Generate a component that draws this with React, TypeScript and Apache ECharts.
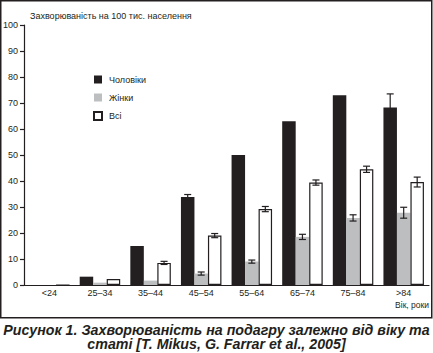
import React, { useEffect, useRef } from "react";
import * as echarts from "echarts";

const categories = ["<24", "25–34", "35–44", "45–54", "55–64", "65–74", "75–84", ">84"];
const seriesNames = ["Чоловіки", "Жінки", "Всі"];
const menValues = [0, 3.2, 15.0, 33.8, 50.0, 63.0, 73.0, 68.3];
const womenValues = [0, 0.9, 1.7, 4.4, 9.0, 18.5, 25.8, 27.8];
const allValues = [0, 2.3, 8.5, 19.0, 29.2, 39.4, 44.5, 39.6];
const menErrors = [null, null, null, 1.0, null, null, null, 5.2];
const womenErrors = [null, null, null, 0.6, 0.6, 1.0, 1.2, 2.1];
const allErrors = [null, null, 0.6, 0.8, 1.0, 1.0, 1.2, 1.9];
const yTitle = "Захворюваність на 100 тис. населення";
const xTitle = "Вік, роки";
const captionLines = [
  "Рисунок 1. Захворюваність на подагру залежно від віку та",
  "статі [T. Mikus, G. Farrar et al., 2005]",
];

const INK = "#231f20";
const FONT = "'Liberation Sans', Arial, sans-serif";
const BAR_W = 13.5;

function errorSeries(values: number[], errors: (number | null)[], offsetIndex: number) {
  const data = values.map((v, i) => [i, v, errors[i] == null ? 0 : (errors[i] as number), errors[i] == null ? 0 : 1]);
  return {
    type: "custom",
    z: 10,
    silent: true,
    data,
    encode: { x: 0, y: 1 },
    renderItem: (params: any, api: any) => {
      if (!api.value(3)) return null;
      const idx = api.value(0);
      const v = api.value(1);
      const e = api.value(2);
      const top = api.coord([idx, v + e]);
      const bot = api.coord([idx, v - e]);
      const x = top[0] + (offsetIndex - 1) * BAR_W;
      const cap = 3.5;
      const style = { stroke: INK, lineWidth: 1.2, fill: "none" };
      return {
        type: "group",
        children: [
          { type: "line", shape: { x1: x, y1: top[1], x2: x, y2: bot[1] }, style },
          { type: "line", shape: { x1: x - cap, y1: top[1], x2: x + cap, y2: top[1] }, style },
          { type: "line", shape: { x1: x - cap, y1: bot[1], x2: x + cap, y2: bot[1] }, style },
        ],
      };
    },
  };
}

export default function App() {
  const ref = useRef<HTMLDivElement>(null);
  useEffect(() => {
    if (!ref.current) return;
    const chart = echarts.init(ref.current, null, { renderer: "svg" });
    chart.setOption({
      animation: false,
      backgroundColor: "#ffffff",
      textStyle: { fontFamily: FONT },
      grid: { left: 23, right: 4, top: 25, bottom: 68, containLabel: false },
      legend: {
        orient: "vertical",
        left: 88,
        top: 70,
        itemWidth: 8,
        itemHeight: 8,
        itemGap: 9,
        icon: "rect",
        data: seriesNames,
        textStyle: { fontFamily: FONT, fontSize: 9, color: INK, padding: [0, 0, 0, 2] },
      },
      xAxis: {
        type: "category",
        data: categories,
        axisLine: { lineStyle: { color: INK, width: 1.2 } },
        axisTick: { inside: true, length: 6, alignWithLabel: false, interval: 0, lineStyle: { color: INK, width: 1.2 } },
        axisLabel: { fontSize: 9, color: INK, margin: 3, interval: 0, fontFamily: FONT },
      },
      yAxis: {
        type: "value",
        min: 0,
        max: 100,
        interval: 10,
        splitLine: { show: false },
        axisLine: { show: true, lineStyle: { color: INK, width: 1.2 } },
        axisTick: { show: true, length: 4, lineStyle: { color: INK, width: 1.2 } },
        axisLabel: { fontSize: 9, color: INK, margin: 6, fontFamily: FONT },
      },
      series: [
        {
          name: seriesNames[0],
          type: "bar",
          data: menValues,
          barWidth: BAR_W,
          barGap: "0%",
          itemStyle: { color: INK },
        },
        {
          name: seriesNames[1],
          type: "bar",
          data: womenValues,
          barWidth: BAR_W,
          barGap: "0%",
          itemStyle: { color: "#bcbec0" },
        },
        {
          name: seriesNames[2],
          type: "bar",
          data: allValues,
          barWidth: BAR_W,
          barGap: "0%",
          itemStyle: { color: "#ffffff", borderColor: INK, borderWidth: 1.2 },
        },
        errorSeries(menValues, menErrors, 0),
        errorSeries(womenValues, womenErrors, 1),
        errorSeries(allValues, allErrors, 2),
      ],
      graphic: [
        {
          type: "rect",
          shape: { x: 0.75, y: 0.75, width: 431, height: 317 },
          style: { fill: "none", stroke: INK, lineWidth: 1.5 },
          silent: true,
        },
        {
          type: "text",
          x: 30,
          y: 16,
          style: { text: yTitle, fontSize: 9, fill: INK, fontFamily: FONT, textVerticalAlign: "middle" },
        },
        {
          type: "text",
          x: 429,
          y: 305,
          style: { text: xTitle, fontSize: 8.5, fill: INK, fontFamily: FONT, textAlign: "right", textVerticalAlign: "middle" },
        },
        ...captionLines.map((t, i) => ({
          type: "text",
          x: 216.5,
          y: 330 + i * 14,
          scaleX: 0.95,
          style: {
            text: t,
            fontSize: 15,
            fontWeight: "bold",
            fontStyle: "italic",
            fill: INK,
            fontFamily: FONT,
            textAlign: "center",
            textVerticalAlign: "middle",
          },
        })),
      ],
    });
    return () => chart.dispose();
  }, []);
  return (
    <div
      ref={ref}
      style={{ position: "absolute", left: 0, top: 0, width: 433, height: 353 }}
    />
  );
}
